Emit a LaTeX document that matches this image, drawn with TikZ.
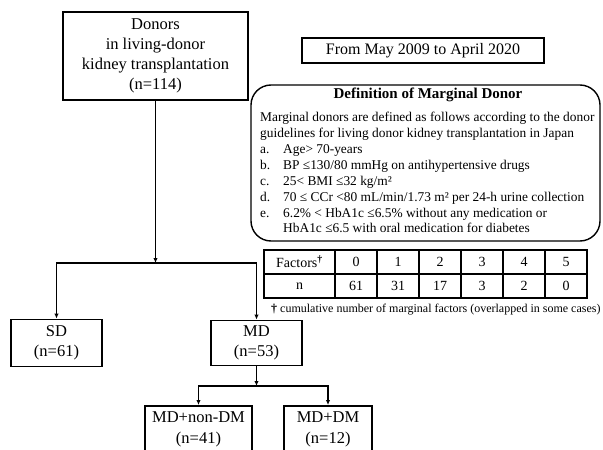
\documentclass[tikz,border=0pt]{standalone}
\usepackage{fontspec}
\setmainfont{Liberation Serif}
\usetikzlibrary{arrows.meta}
\begin{document}
\begin{tikzpicture}[x=1pt,y=-1pt,
  box/.style={draw, line width=1.9pt, inner sep=0pt, align=center, font=\fontsize{16.5}{20}\selectfont},
  boxtext/.style={inner sep=0pt, align=center, font=\fontsize{16.5}{21}\selectfont},
  conn/.style={line width=1.9pt, -{Latex[length=5pt,width=4.5pt]}},
  ln/.style={anchor=base west, inner sep=0pt, font=\fontsize{13.4}{16}\selectfont},
  cell/.style={draw, line width=1.4pt, minimum height=24pt, inner sep=0pt, font=\fontsize{14}{16}\selectfont},
]
\useasboundingbox (0,0) rectangle (603,450);
\clip (0,0) rectangle (603,450);

% top box
\node[box, minimum width=185pt, minimum height=88pt] (donors) at (155.5,56)
  {Donors\\in living-donor\\kidney transplantation\\(n=114)};

\node[box, line width=1.6pt, minimum width=242pt, minimum height=25pt, font=\fontsize{16}{18}\selectfont] (period) at (423,50.5) {From May 2009 to April 2020};

% definition box
\node[draw, line width=1.4pt, rounded corners=20pt, minimum width=349pt, minimum height=156pt, inner sep=0pt] (defbox) at (425.5,163) {};
\node[inner sep=0pt, font=\bfseries\fontsize{15}{18}\selectfont] (deftitle) at (428,95) {Definition of Marginal Donor};
\node[ln] (l1) at (260,121.5) {Marginal donors are defined as follows according to the donor};
\node[ln] (l2) at (260,137.5) {guidelines for living donor kidney transplantation in Japan};
\node[ln] (la) at (260,153.5) {a.};
\node[ln] (lb) at (260,169.5) {b.};
\node[ln] (lc) at (260,185.5) {c.};
\node[ln] (ld) at (260,201.5) {d.};
\node[ln] (le) at (260,217.5) {e.};
\node[ln] (ta) at (283,153.5) {Age> 70-years};
\node[ln] (tb) at (283,169.5) {BP ≤130/80 mmHg on antihypertensive drugs};
\node[ln] (tc) at (283,185.5) {25< BMI ≤32 kg/m²};
\node[ln] (td) at (283,201.5) {70 ≤ CCr <80 mL/min/1.73 m² per 24-h urine collection};
\node[ln] (te) at (283,217.5) {6.2\% < HbA1c ≤6.5\% without any medication or};
\node[ln] (tf) at (283,232.5) {HbA1c ≤6.5 with oral medication for diabetes};

% table
\node[cell, minimum width=71pt] (h0) at (299.5,262) {Factors\textsuperscript{\bfseries †}};
\node[cell, minimum width=42pt] (h1) at (356,262) {0};
\node[cell, minimum width=42pt] (h2) at (398,262) {1};
\node[cell, minimum width=42pt] (h3) at (440,262) {2};
\node[cell, minimum width=42pt] (h4) at (482,262) {3};
\node[cell, minimum width=42pt] (h5) at (524,262) {4};
\node[cell, minimum width=42pt] (h6) at (566,262) {5};
\node[cell, minimum width=71pt] (n0) at (299.5,286) {n};
\node[cell, minimum width=42pt] (n1) at (356,286) {61};
\node[cell, minimum width=42pt] (n2) at (398,286) {31};
\node[cell, minimum width=42pt] (n3) at (440,286) {17};
\node[cell, minimum width=42pt] (n4) at (482,286) {3};
\node[cell, minimum width=42pt] (n5) at (524,286) {2};
\node[cell, minimum width=42pt] (n6) at (566,286) {0};
\node[anchor=west, inner sep=0pt, font=\fontsize{12}{14}\selectfont] (foot) at (271,309.5) {{\bfseries †} cumulative number of marginal factors (overlapped in some cases)};

% tree
\node[box, minimum width=91pt, minimum height=47pt] (sd) at (56.5,343) {SD\\(n=61)};
\node[box, minimum width=91pt, minimum height=45pt] (md) at (256.5,343) {MD\\(n=53)};
\node[box, minimum width=107pt, minimum height=75pt, anchor=north] (nondm) at (198.5,405) {};
\node[boxtext] (nondmtext) at (198.5,429.5) {MD+non-DM\\(n=41)};
\node[box, minimum width=88pt, minimum height=75pt, anchor=north] (dm) at (328,405) {};
\node[boxtext] (dmtext) at (328,429.5) {MD+DM\\(n=12)};

\coordinate (j1) at (155.5,263);
\coordinate (j2) at (256.5,386);
\draw[conn] (donors.south) -- (j1);
\draw[conn] (j1) -| (sd.north);
\draw[conn] (j1) -| (md.north);
\draw[conn] (md.south) -- (j2);
\draw[conn] (j2) -| (nondm.north);
\draw[conn] (j2) -| (dm.north);
\end{tikzpicture}
\end{document}
